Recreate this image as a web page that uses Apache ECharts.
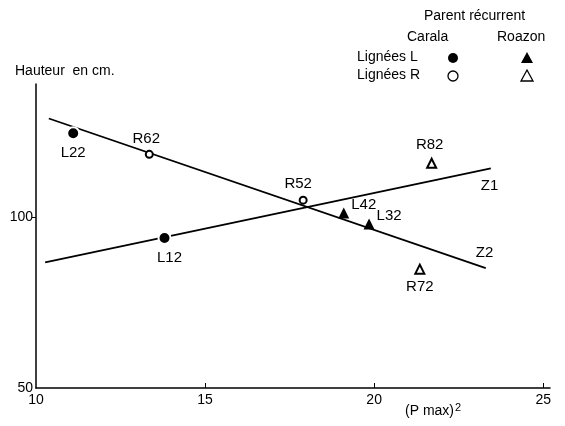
<!DOCTYPE html>
<html>
<head>
<meta charset="utf-8">
<script src="https://cdn.jsdelivr.net/npm/echarts@6/dist/echarts.min.js"></script>
<style>
  html, body { margin: 0; padding: 0; background: #fff; }
  #main { width: 565px; height: 426px; }
</style>
</head>
<body>
<div id="main"></div>
<script>
// points: [x = (Pmax)^2, y = hauteur, name]
var lCarala = [[11.1, 124.6, 'L22'], [13.8, 93.9, 'L12']];
var rCarala = [[13.35, 118.4, 'R62'], [17.9, 105.0, 'R52']];
var lRoazon = [[19.1, 101.2, 'L42'], [19.85, 98.0, 'L32']];
var rRoazon = [[21.7, 115.8, 'R82'], [21.35, 84.8, 'R72']];

var lineZ1 = [[10.27, 86.8], [23.45, 114.3]];
var lineZ2 = [[10.38, 128.9], [23.3, 85.1]];

var xTicks = [10, 15, 20, 25];
var yTicks = [50, 100];

var font = '"Liberation Sans", Arial, sans-serif';
var ink = '#000';

var myChart = echarts.init(document.getElementById('main'));

// label placement per point
var labelPos = {
  L22: {position: 'bottom', distance: 5, offset: [0, 0]},
  L12: {position: 'bottom', distance: 5, offset: [5, 0]},
  R62: {position: 'top', distance: 4, offset: [-3, 0]},
  R52: {position: 'top', distance: 4, offset: [-5, 0]},
  L42: {position: 'right', distance: 2, offset: [0, -8]},
  L32: {position: 'right', distance: 2, offset: [0, -8]},
  R82: {position: 'top', distance: 5, offset: [-2, 0]},
  R72: {position: 'bottom', distance: 5, offset: [0, 0]}
};

function pts(arr) {
  return arr.map(function (p) {
    var lp = labelPos[p[2]];
    return {
      value: [p[0], p[1]],
      name: p[2],
      label: {
        show: true,
        formatter: p[2],
        position: lp.position,
        distance: lp.distance,
        offset: lp.offset
      }
    };
  });
}

var labelStyle = {color: ink, fontFamily: font, fontSize: 15, opacity: 1};

myChart.setOption({
  animation: false,
  grid: {left: 36, right: 15, top: 84, bottom: 38},
  xAxis: {
    type: 'value',
    min: 10,
    max: 25.2,
    interval: 5,
    axisLine: {lineStyle: {color: ink, width: 1.5}},
    axisTick: {show: true, inside: true, length: 5, lineStyle: {color: ink}, customValues: xTicks.slice(1)},
    axisLabel: {color: ink, fontFamily: font, fontSize: 14, margin: 5, customValues: xTicks},
    splitLine: {show: false}
  },
  yAxis: {
    type: 'value',
    min: 50,
    max: 139,
    interval: 50,
    axisLine: {show: true, lineStyle: {color: ink, width: 1.5}},
    axisTick: {show: true, length: 4, lineStyle: {color: ink}, customValues: [100]},
    axisLabel: {color: ink, fontFamily: font, fontSize: 14, margin: 3, customValues: yTicks},
    splitLine: {show: false}
  },
  graphic: [
    {type: 'text', left: 15, top: 64, style: {text: 'Hauteur  en cm.', fill: ink, font: '14px ' + font}},
    {type: 'text', left: 424, top: 9, style: {text: 'Parent récurrent', fill: ink, font: '14px ' + font}},
    {type: 'text', left: 407, top: 30, style: {text: 'Carala', fill: ink, font: '14px ' + font}},
    {type: 'text', left: 497, top: 30, style: {text: 'Roazon', fill: ink, font: '14px ' + font}},
    {type: 'text', left: 357, top: 50, style: {text: 'Lignées L', fill: ink, font: '14px ' + font}},
    {type: 'text', left: 357, top: 68, style: {text: 'Lignées R', fill: ink, font: '14px ' + font}},
    {type: 'circle', shape: {cx: 453, cy: 58, r: 5}, style: {fill: ink}},
    {type: 'circle', shape: {cx: 453, cy: 76, r: 5}, style: {fill: '#fff', stroke: ink, lineWidth: 1.3}},
    {type: 'polygon', shape: {points: [[527, 52], [533, 63], [521, 63]]}, style: {fill: ink}},
    {type: 'polygon', shape: {points: [[527, 70], [533, 81], [521, 81]]}, style: {fill: '#fff', stroke: ink, lineWidth: 1.3}},
    {
      type: 'text', left: 405, top: 402,
      style: {
        text: '(P max){sup|2}',
        fill: ink,
        font: '14px ' + font,
        rich: {sup: {fontSize: 11, fontFamily: font, verticalAlign: 'top', padding: [0, 0, 8, 1], fill: ink}}
      }
    }
  ],
  series: [
    {
      name: 'Z1',
      type: 'line',
      data: lineZ1,
      symbol: 'none',
      lineStyle: {color: ink, width: 1.8},
      z: 1,
      endLabel: {show: true, formatter: 'Z1', offset: [-18, 17], color: ink, fontFamily: font, fontSize: 15}
    },
    {
      name: 'Z2',
      type: 'line',
      data: lineZ2,
      symbol: 'none',
      lineStyle: {color: ink, width: 1.8},
      z: 1,
      endLabel: {show: true, formatter: 'Z2', offset: [-18, -15], color: ink, fontFamily: font, fontSize: 15}
    },
    {
      name: 'L Carala',
      type: 'scatter',
      symbol: 'circle',
      symbolSize: 12,
      itemStyle: {color: ink, borderColor: '#fff', borderWidth: 2, opacity: 1},
      label: labelStyle,
      data: pts(lCarala),
      z: 3
    },
    {
      name: 'R Carala',
      type: 'scatter',
      symbol: 'emptyCircle',
      symbolSize: 7,
      itemStyle: {color: ink, borderColor: ink, borderWidth: 1.3, opacity: 1},
      label: labelStyle,
      data: pts(rCarala),
      z: 3
    },
    {
      name: 'L Roazon',
      type: 'scatter',
      symbol: 'triangle',
      symbolSize: 11,
      itemStyle: {color: ink, opacity: 1},
      label: labelStyle,
      data: pts(lRoazon),
      z: 3
    },
    {
      name: 'R Roazon',
      type: 'scatter',
      symbol: 'emptyTriangle',
      symbolSize: 9,
      itemStyle: {color: ink, borderColor: ink, borderWidth: 1.2, opacity: 1},
      label: labelStyle,
      data: pts(rRoazon),
      z: 3
    }
  ]
});
</script>
</body>
</html>
